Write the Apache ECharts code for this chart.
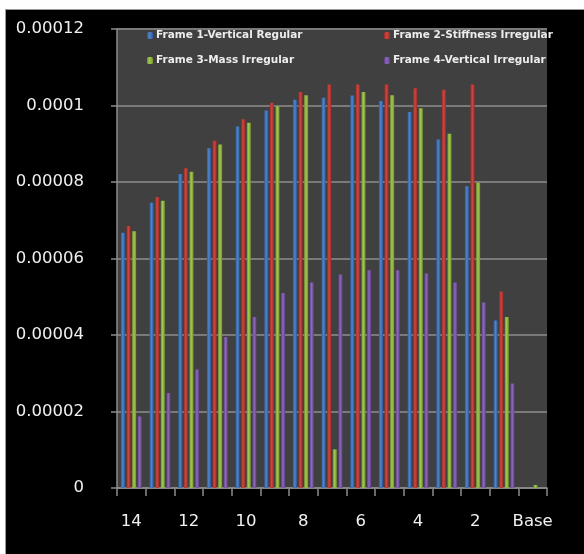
<!DOCTYPE html>
<html>
<head>
<meta charset="utf-8">
<script src="https://cdn.jsdelivr.net/npm/echarts@6/dist/echarts.min.js"></script>
<style>
  html, body { margin: 0; padding: 0; background: #ffffff; }
  #frame {
    position: absolute; left: 5px; top: 9px; width: 579px; height: 545px;
    background: #000000; border-left: 1px solid #9a9a9a; border-top: 1px solid #9a9a9a;
  }
  #chart { width: 579px; height: 545px; }
</style>
</head>
<body>
<div id="frame"><div id="chart"></div></div>
<script>
// Storey labels, top floor first
const categories = ['14', '13', '12', '11', '10', '9', '8', '7', '6', '5', '4', '3', '2', '1', 'Base'];

// Storey drift per frame
const frame1 = [6.67e-5, 7.46e-5, 8.21e-5, 8.88e-5, 9.45e-5, 9.87e-5, 1.015e-4, 1.020e-4, 1.026e-4, 1.012e-4, 9.83e-5, 9.11e-5, 7.89e-5, 4.38e-5, 0];
const frame2 = [6.85e-5, 7.61e-5, 8.36e-5, 9.08e-5, 9.64e-5, 1.007e-4, 1.035e-4, 1.055e-4, 1.055e-4, 1.055e-4, 1.045e-4, 1.041e-4, 1.055e-4, 5.14e-5, 0];
const frame3 = [6.71e-5, 7.51e-5, 8.27e-5, 8.98e-5, 9.55e-5, 9.98e-5, 1.027e-4, 1.01e-5, 1.035e-4, 1.027e-4, 9.93e-5, 9.26e-5, 7.98e-5, 4.47e-5, 8e-7];
const frame4 = [1.87e-5, 2.48e-5, 3.10e-5, 3.95e-5, 4.47e-5, 5.10e-5, 5.37e-5, 5.58e-5, 5.69e-5, 5.69e-5, 5.61e-5, 5.37e-5, 4.85e-5, 2.73e-5, 0];

const seriesNames = [
  'Frame 1-Vertical Regular',
  'Frame 2-Stiffness Irregular',
  'Frame 3-Mass Irregular',
  'Frame 4-Vertical Irregular'
];

// Value-axis tick values and their printed labels
const yTicks = [0, 0.00002, 0.00004, 0.00006, 0.00008, 0.0001, 0.00012];
const yTickLabels = ['0', '0.00002', '0.00004', '0.00006', '0.00008', '0.0001', '0.00012'];

// [edge, centre] shades for each bar colour
const shades = [
  ['#2f5a9a', '#4f85cc'],
  ['#9c2c28', '#d0453f'],
  ['#739430', '#a2c84e'],
  ['#5f428a', '#8e68ba']
];

function barFill(pair) {
  return new echarts.graphic.LinearGradient(0, 0, 1, 0, [
    { offset: 0, color: pair[0] },
    { offset: 0.45, color: pair[1] },
    { offset: 1, color: pair[0] }
  ]);
}

const legendText = {
  color: '#ececec', fontFamily: 'DejaVu Sans', fontSize: 10.5, fontWeight: 'bold', padding: [0, 0, 0, -2]
};

const axisFont = { color: '#f0f0f0', fontFamily: 'DejaVu Sans', fontSize: 16.5 };

const chart = echarts.init(document.getElementById('chart'), null, { renderer: 'canvas' });

const values = [frame1, frame2, frame3, frame4];

chart.setOption({
  backgroundColor: '#000000',
  animation: false,
  legend: [
    {
      data: [seriesNames[0], seriesNames[2]],
      orient: 'vertical', left: 136, top: 15, itemGap: 14,
      itemWidth: 6, itemHeight: 7, textStyle: legendText
    },
    {
      data: [seriesNames[1], seriesNames[3]],
      orient: 'vertical', left: 373, top: 15, itemGap: 14,
      itemWidth: 6, itemHeight: 7, textStyle: legendText
    }
  ],
  grid: { left: 111, top: 19, width: 430, height: 459, containLabel: false, show: true, backgroundColor: '#404040', borderWidth: 0 },
  xAxis: {
    type: 'category',
    data: categories,
    axisLine: { lineStyle: { color: '#8c8c8c', width: 1.5 } },
    axisTick: { show: true, interval: 0, length: 8, lineStyle: { color: '#8c8c8c', width: 1.5 } },
    axisLabel: Object.assign({ interval: 1, margin: 25 }, axisFont),
    splitLine: { show: false }
  },
  yAxis: {
    type: 'value',
    min: 0, max: 0.00012, interval: 0.00002,
    axisLine: { show: true, lineStyle: { color: '#8c8c8c', width: 1.5 } },
    axisTick: { show: true, length: 6, lineStyle: { color: '#8c8c8c', width: 1.5 } },
    axisLabel: Object.assign({
      margin: 33,
      formatter: function (v) {
        let best = 0;
        for (let i = 1; i < yTicks.length; i++) {
          if (Math.abs(yTicks[i] - v) < Math.abs(yTicks[best] - v)) best = i;
        }
        return yTickLabels[best];
      }
    }, axisFont),
    splitLine: { show: true, lineStyle: { color: '#7a7a7a', width: 2 } }
  },
  series: values.map(function (arr, i) {
    return {
      name: seriesNames[i],
      type: 'bar',
      data: arr,
      barWidth: 4,
      barGap: '40%',
      itemStyle: { color: barFill(shades[i]) }
    };
  }),
  color: shades.map(function (p) { return p[1]; })
});
</script>
</body>
</html>
